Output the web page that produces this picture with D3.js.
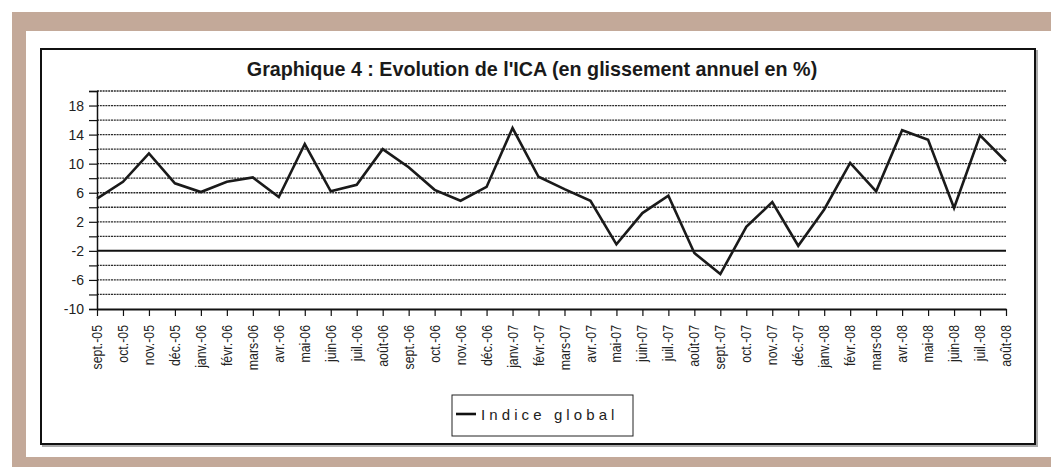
<!DOCTYPE html>
<html>
<head>
<meta charset="utf-8">
<script src="https://cdn.jsdelivr.net/npm/d3@7"></script>
<style>
  html, body { margin: 0; padding: 0; background: #fff; }
  svg { display: block; }
</style>
</head>
<body>
<svg id="chart" width="1051" height="467"></svg>
<script>
const months = ["sept.-05","oct.-05","nov.-05","déc.-05","janv.-06","févr.-06","mars-06","avr.-06","mai-06","juin-06","juil.-06","août-06",
  "sept.-06","oct.-06","nov.-06","déc.-06","janv.-07","févr.-07","mars-07","avr.-07","mai-07","juin-07","juil.-07","août-07",
  "sept.-07","oct.-07","nov.-07","déc.-07","janv.-08","févr.-08","mars-08","avr.-08","mai-08","juin-08","juil.-08","août-08"];
const indiceGlobal = [5.2,7.5,11.4,7.3,6.1,7.5,8.1,5.4,12.7,6.2,7.1,12.0,
  9.5,6.4,4.9,6.8,14.9,8.2,6.5,4.9,-1.1,3.2,5.6,-2.3,
  -5.2,1.3,4.7,-1.3,3.7,10.1,6.2,14.6,13.3,3.9,13.9,10.3];
const yTickLabels = [-10,-6,-2,2,6,10,14,18];
const yGridValues = [-8,-6,-4,-2,0,2,4,6,8,10,12,14,16,18,20];
const yDomain = [-10,20];
const titleText = "Graphique 4 : Evolution de l'ICA (en glissement annuel en %)";
const seriesName = "Indice global";

const svg = d3.select("#chart");
const W = 1051, H = 467;
const beige = "#c3a999";

// frame
svg.append("rect").attr("x",0).attr("y",0).attr("width",W).attr("height",H).attr("fill","#fff");
svg.append("rect").attr("x",12).attr("y",12).attr("width",W-12).attr("height",H-12).attr("fill",beige);
svg.append("rect").attr("x",26).attr("y",31).attr("width",W-26).attr("height",457-31).attr("fill","#fff");
// chart box with shadow
svg.append("rect").attr("x",43).attr("y",51).attr("width",1035-41).attr("height",444-49).attr("fill","none").attr("stroke","#aaa").attr("stroke-width",2);
svg.append("rect").attr("x",41).attr("y",49).attr("width",1035-41).attr("height",444-49).attr("fill","#fff").attr("stroke","#111").attr("stroke-width",2);

const x = d3.scalePoint().domain(months).range([97, 1006]).padding(0);
const y = d3.scaleLinear().domain(yDomain).range([309, 91]);

// gridlines
const grid = svg.append("g");
grid.selectAll("line").data(yGridValues).join("line")
  .attr("x1", 97).attr("x2", 1006)
  .attr("y1", d => y(d)).attr("y2", d => y(d))
  .attr("stroke", d => d === -2 ? "#111" : "#2a2a2a")
  .attr("stroke-width", d => d === -2 ? 2 : 1.3)
  .attr("stroke-dasharray", d => d === -2 ? null : "2,0.8");

// y axis
const yAxis = d3.axisLeft(y).tickValues(d3.range(-10, 21, 2)).tickSize(8).tickFormat(d => yTickLabels.includes(d) ? d : "");
const gy = svg.append("g").attr("transform","translate(97,0)").call(yAxis);
gy.select(".domain").attr("stroke","#111").attr("stroke-width",1.5);
gy.selectAll(".tick line").attr("stroke","#111").attr("stroke-width",1.2);
gy.selectAll(".tick text").attr("font-family","'Liberation Sans', Arial, sans-serif").attr("font-size",14).attr("fill","#222").attr("x",-13);

// x axis
const xAxis = d3.axisBottom(x).tickSize(7).tickSizeOuter(0).tickFormat("");
const gx = svg.append("g").attr("transform",`translate(0,${y(-10)})`).call(xAxis);
gx.select(".domain").attr("stroke","#111").attr("stroke-width",2.2);
gx.selectAll(".tick line").attr("stroke","#111").attr("stroke-width",1.2);
svg.append("g").selectAll("text").data(months).join("text")
  .attr("transform", d => `translate(${x(d)},325) rotate(-90) scale(0.88,1)`)
  .attr("text-anchor","end").attr("dy","0.36em")
  .attr("font-family","'Liberation Sans', Arial, sans-serif").attr("font-size",14).attr("fill","#222")
  .text(d => d);

// line
const line = d3.line().x((d,i) => x(months[i])).y(d => y(d));
svg.append("path").datum(indiceGlobal).attr("d", line)
  .attr("fill","none").attr("stroke","#1a1a1a").attr("stroke-width",2.6).attr("stroke-linejoin","miter");

// title
const t = svg.append("text").attr("x", 532).attr("y", 76).attr("text-anchor","middle")
  .attr("font-family","'Liberation Sans', Arial, sans-serif").attr("font-weight","bold").attr("font-size",18).attr("fill","#1a1a1a")
  .text(titleText);
const tw = t.node().getComputedTextLength();
t.attr("font-size", 18 * 571 / tw);

// legend
svg.append("rect").attr("x",452).attr("y",395).attr("width",181).attr("height",41).attr("fill","#fff").attr("stroke","#222").attr("stroke-width",1);
svg.append("line").attr("x1",456).attr("x2",476).attr("y1",414).attr("y2",414).attr("stroke","#111").attr("stroke-width",2.6);
svg.append("text").attr("x",481).attr("y",420).attr("font-family","'Liberation Sans', Arial, sans-serif").attr("font-size",15)
  .attr("letter-spacing","4.1px").attr("fill","#222").text(seriesName);
</script>
</body>
</html>
